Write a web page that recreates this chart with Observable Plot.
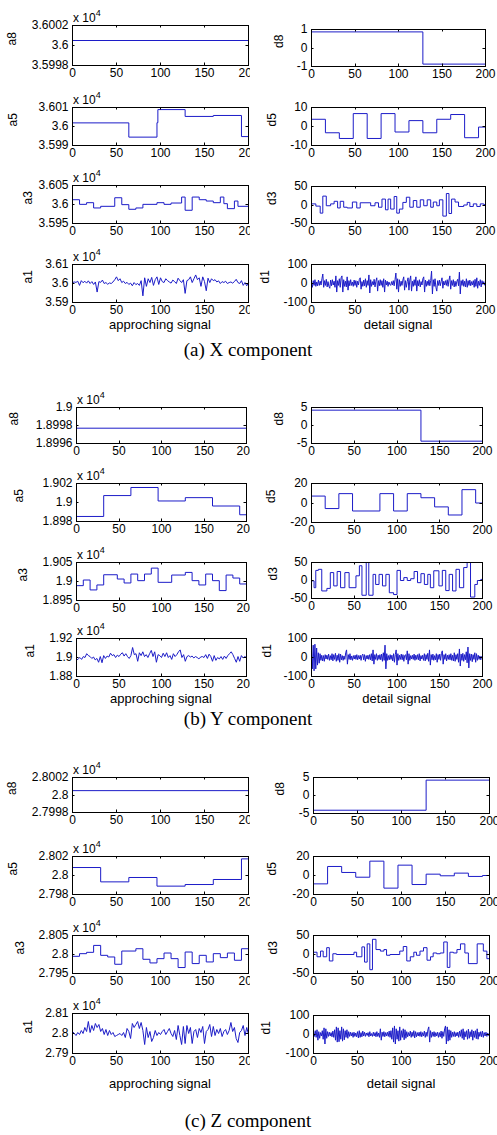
<!DOCTYPE html>
<html><head><meta charset="utf-8">
<script src="https://cdn.jsdelivr.net/npm/d3@7"></script>
<script src="https://cdn.jsdelivr.net/npm/@observablehq/plot@0.6"></script>
<style>
body{margin:0;background:#fff;}
#root{position:relative;width:497px;height:1135px;overflow:hidden;background:#fff;}
#leftClip{position:absolute;left:0;top:0;width:250px;height:1135px;overflow:hidden;}
.cap{position:absolute;font-family:"Liberation Serif","Times New Roman",serif;font-size:19px;white-space:nowrap;transform:translate(-50%,-50%);color:#000;}
.xl{position:absolute;font-family:"Liberation Sans",Arial,sans-serif;font-size:13px;white-space:nowrap;transform:translate(-50%,-50%);color:#000;}
</style></head><body><div id="root"><div id="leftClip"></div></div>
<script>
// ---------- tick labels ----------
const xTicks = [0, 50, 100, 150, 200];
const ticksX = {a8:[35998,36000,36002], a5:[35990,36000,36010], a3:[35950,36000,36050], a1:[35900,36000,36100], d8:[-1,0,1], d5:[-10,0,10], d3:[-50,0,50], d1:[-100,0,100]};
const ticksY = {a8:[18996,18998,19000], a5:[18980,19000,19020], a3:[18950,19000,19050], a1:[18800,19000,19200], d8:[-5,0,5], d5:[-20,0,20], d3:[-50,0,50], d1:[-100,0,100]};
const ticksZ = {a8:[27998,28000,28002], a5:[27980,28000,28020], a3:[27950,28000,28050], a1:[27900,28000,28100], d8:[-5,0,5], d5:[-20,0,20], d3:[-50,0,50], d1:[-100,0,100]};

// ---------- X component ----------
const a8X = 36000.5;
const a5X = [[0,36001.9],[64,35994.4],[96,36002],[97,36008.9],[128,36005.3],[160,36005.8],[192,35994.7],[200,35994.7]];
const a3X = [[0,36012.6],[8,36000.4],[16,36004.8],[24,35990.9],[32,35995.2],[48,36017.8],[56,35999.6],[64,35987.4],[72,35990.9],[80,36000.4],[96,36004.8],[104,36000.4],[112,36003.9],[124,36019.6],[128,35984.8],[136,36019.6],[144,36012.6],[152,36009.1],[160,36004.8],[168,36019.6],[172,36002.2],[176,35989.1],[184,36009.1],[188,35995.2],[200,35995.2]];
const a1X = [36005,36008,36006,36012,35990,36015,36004,36012,36002,36014,
36000,36010,35995,36008,35955,36010,36006,36018,36000,36005,
35996,36003,36000,36008,36020,36035,36015,36025,36005,36012,
36000,36006,35995,36002,35988,36005,35994,36000,35990,36015,
35935,36030,35985,36025,36005,36032,35990,36020,36035,35995,
36030,36010,36005,36025,36015,36008,36002,36018,36010,36000,
36028,36015,36005,36020,35948,36015,36020,36035,36005,36025,
36045,36020,36030,35985,36035,36010,35962,36028,36005,36025,
36015,36020,36008,36014,36000,36010,36005,36012,36000,36005,
36008,36002,36010,36022,36005,36000,36015,35990,36005,35988,
36002];
const d8X = [[0,0.87],[128,-0.87],[200,-0.87]];
const d5X = [[0,3.8],[16,-3.3],[32,-6.3],[48,6.8],[64,-6.3],[80,6.8],[96,-2.9],[112,3.1],[128,-3.3],[144,3.8],[160,6.3],[176,-5.9],[192,-0.3],[200,-0.3]];
const d3X = [[0,3],[5,-3],[10,-22],[13,24],[17,-2],[22,3],[26,10],[30,-8],[33,10],[37,-6],[41,-8],[47,8],[52,-8],[56,6],[68,-2],[73,6],[77,-6],[81,16],[85,-13],[88,16],[91,-11],[95,23],[98,-22],[101,-11],[105,7],[109,21],[113,-6],[117,12],[121,-6],[125,14],[129,-2],[133,14],[137,-6],[140,8],[144,-2],[147,14],[151,-30],[155,31],[158,-23],[161,16],[165,8],[169,-4],[175,0],[179,7],[182,-4],[186,3],[190,-4],[194,3],[198,1],[200,1]];
const d1X = [5,-20,15,-10,20,-15,8,-12,18,-10, 12,-8,25,50,-20,15,-10,22,-18,10, -15,-25,18,-12,20,-8,12,-20,40,-45, 15,-10,25,-20,30,40,-45,20,-15,12,
-18,35,-35,15,-12,20,-10,8,-15,18, -10,15,-20,12,-8,22,30,-30,10,-15, 18,-12,25,-20,15,-10,45,-50,20,-15, 10,-8,22,-18,12,30,-40,15,-12,20,
-10,15,-20,25,-45,18,-8,12,-15,8, -5,-10,10,-8,15,-12,20,55,-30,25, -45,20,-15,12,-10,18,35,-35,15,-20, 10,30,-35,18,40,-40,12,-15,20,-10,
35,-40,15,-12,20,-18,10,-8,25,35, -45,18,-15,12,-10,20,-12,15,65,-55, 20,-15,25,-20,-40,15,-10,18,-12,10, 30,-25,12,-8,15,-10,20,-15,18,40,
-30,15,-10,20,-18,12,-15,10,22,-12, 60,-55,15,-10,20,-15,12,-18,25,-20, 15,-10,18,-12,10,-8,15,-20,22,-15, 30,-25,12,-10,20,-18,15,-5,10,-8];

// ---------- Y component ----------
const a8Y = 18997.7;
const a5Y = [[0,18985.3],[32,19007.3],[64,19015.8],[96,19001.6],[128,19005.1],[160,18996.3],[192,18987.1],[200,18987.1]];
const a3Y = [[0,18989.1],[8,19003.9],[16,18977.8],[24,18990.9],[32,19017.8],[48,19006.5],[56,18996.1],[64,19019.6],[72,19002.2],[80,19019.6],[88,19035.2],[96,18997.8],[112,19017],[128,19023.9],[136,19002.2],[144,18990.9],[152,19019.6],[160,19002.2],[168,18976.1],[176,19017],[184,19009.1],[192,18993.5],[200,18993.5]];
const a1Y = [18970,18985,19000,18980,19010,19000,19040,19020,19010,18990,
19005,18975,18990,18950,19010,18945,19020,18990,19015,19005,
19045,19020,19030,19000,19025,19010,19035,19050,19015,19040,
19010,18990,19020,19105,19030,19040,18960,19050,19020,19060,
19010,19030,19000,19040,19075,19010,19060,18950,19030,19020,
19000,19045,19010,19050,19000,19020,18980,19040,19010,19030,
19060,19080,19000,19030,18960,19010,19020,19005,19015,18995,
19010,19000,18985,19005,19010,19000,19030,18990,19035,19010,
18960,19020,18970,19000,18985,19010,18980,19015,18990,19020,
19040,19060,19030,18990,18950,19010,18960,19020,18995,19010,
19000];
const d8Y = [[0,4.26],[128,-4.35],[200,-4.35]];
const d5Y = [[0,7.1],[16,-5.7],[32,9.6],[48,-8.2],[80,9.6],[96,-8.2],[112,9.6],[128,5.4],[144,-4],[160,-12.3],[176,13.7],[192,0],[200,0]];
const d3Y = [[0,-1],[3,-20],[5,28],[8,31],[12,-29],[18,-22],[22,22],[26,-15],[30,25],[34,-20],[39,22],[44,-20],[52,13],[56,41],[59,-41],[64,50],[67,-41],[72,17],[75,-11],[79,17],[83,-15],[87,17],[91,-34],[96,-39],[100,28],[104,0],[108,8],[112,0],[116,5],[120,25],[124,-6],[128,19],[132,-11],[136,17],[139,-20],[143,27],[149,-15],[153,28],[157,-28],[161,17],[165,-29],[169,31],[173,-20],[178,36],[182,50],[186,-46],[191,-11],[194,0],[198,3],[200,3]];
const d1Y = [30,-60,65,-70,70,-60,50,-40,25,-30, 20,-15,12,-18,10,-20,15,-8,12,-10, 18,-15,10,-12,20,-18,15,-10,22,-20, 12,-15,20,-25,18,-12,10,-15,8,-10,
25,40,-35,15,-10,20,-12,8,-15,10, -8,12,-10,15,-12,10,-8,12,-15,10, 18,-12,15,-20,10,-8,12,-10,15,-12, 20,-18,40,-35,15,-10,20,-15,12,-10,
15,-12,18,-20,25,-15,65,-60,20,-15, 10,-12,15,-10,12,-18,20,-25,15,40, -40,20,-15,12,-10,18,-12,15,-20,10, 15,-12,35,-35,20,-15,10,-8,12,-10,
18,-15,12,-10,15,-12,20,-18,10,-8, 12,-15,20,-18,15,-10,22,-20,40,-40, 15,-12,18,-15,10,-12,20,-25,15,-10, 18,-15,22,35,-35,15,-10,20,-18,12,
-10,15,-12,20,-15,12,-18,25,-20,15, -10,20,-25,45,-45,18,-15,22,-20,15, -12,30,-28,55,-55,20,-15,18,-22,15, -10,25,-25,20,-15,12,-10,8,-12,5];

// ---------- Z component ----------
const a8Z = 28000.5;
const a5Z = [[0,28008.4],[32,27993.3],[64,27997.9],[96,27988.8],[128,27990.5],[160,27995.8],[192,28017.5],[200,28017.5]];
const a3Z = [[0,27995.2],[8,28002.2],[16,28005.7],[24,28023.9],[32,27997.8],[40,27993.5],[48,27974.3],[56,28009.1],[72,28015.2],[80,27987.4],[88,27977.8],[96,27989.1],[104,28003.9],[112,27989.1],[120,27965.7],[128,28006.5],[136,27976.1],[144,27997.8],[152,27980.4],[160,28002.2],[168,27991.7],[176,28003.9],[184,27984.8],[192,28015.2],[200,28015.2]];
const a1Z = [28010,28000,27990,28005,27995,28015,28000,28030,28010,28060,
28005,28040,28015,28050,28030,28045,28010,28025,27995,28020,
27990,28015,27995,28005,27985,27990,27995,28000,27990,28005,
27980,28025,28010,27975,28050,28030,28045,28060,28025,28055,
28015,27945,28030,27980,28010,27960,27980,28015,27990,28005,
27995,28010,28020,27995,28010,28025,28000,27985,28015,27970,
28040,27990,27945,28035,27950,28040,28000,28030,27950,28010,
28020,27980,28025,28005,28035,27950,28010,28020,28045,27985,
28035,27990,28020,28000,28025,27985,28010,28020,27995,28015,
28055,28010,28030,27975,27955,28005,28015,28040,27990,28030,
27995];
const d8Z = [[0,-4.09],[128,4.27],[200,4.27]];
const d5Z = [[0,-8.8],[16,9.5],[32,3.2],[48,-1.8],[64,15.1],[80,-13.3],[96,10.9],[112,-9.5],[128,1.4],[144,-0.3],[160,2.5],[176,-1],[192,0],[200,0]];
const d3Z = [[0,6],[4,-6],[8,9],[11,-6],[15,18],[18,-17],[22,2],[26,0],[46,6],[49,-6],[55,20],[58,-20],[61,28],[64,-40],[67,40],[71,13],[76,9],[80,13],[83,-2],[87,0],[98,9],[102,21],[106,-17],[110,-6],[114,6],[117,-2],[121,9],[125,18],[129,-15],[133,-6],[136,4],[140,2],[144,4],[148,33],[152,-34],[155,6],[159,4],[163,13],[167,28],[172,4],[176,-24],[186,28],[193,9],[197,-11],[200,-11]];
const d1Z = [15,-10,20,-15,25,-30,15,-20,10,-8, 20,-25,35,-50,30,-20,15,-10,12,-8, 10,-12,18,-15,25,-30,40,-40,35,-38, 20,-25,40,-35,30,-28,20,-15,25,-20,
15,-10,12,-8,10,-15,12,-10,8,-12, 15,-18,20,-15,10,-12,18,-8,12,-10, 8,-5,10,-12,15,-8,5,-10,12,-8, 10,-12,15,-10,8,-15,30,-30,12,-10,
15,-12,10,-8,12,-10,18,-15,20,-25, 35,-40,45,-50,30,-25,20,-35,40,-30, 20,-15,30,-28,25,-20,15,-12,10,-8, 18,-15,12,-10,20,-18,15,-12,10,-8,
12,-10,15,-12,10,-8,18,-15,12,-10, 25,40,-40,20,-15,12,-10,15,-12,10, -8,12,-15,10,-12,18,-20,15,-10,30, 45,-50,40,-35,25,-30,20,-15,12,-10,
15,-12,10,-8,12,-15,18,-10,25,-20, 30,-28,15,-12,20,-25,28,-20,15,-12, 25,-30,18,-15,20,-22,30,-25,12,-10, 15,-12,18,-15,10,-8,12,-10,8,-5];

// ---------- layout (pixels) ----------
const groups = [
  {comp:"X", cap:"(a) X component", capY:350, xlabY:324, xL:[72,248], xR:[311,485],
   rowsL:[[25,65],[107,145],[185,223],[264,302]], rowsR:[[29,66],[107,145],[186,223],[264,302]],
   labL:[12,13,28,28], labR:[278.5,272,272,265],
   ticks:ticksX, a8:a8X, a5:a5X, a3:a3X, a1:a1X, d8:d8X, d5:d5X, d3:d3X, d1:d1X},
  {comp:"Y", cap:"(b) Y component", capY:719, xlabY:698, xL:[76,246], xR:[311,482],
   rowsL:[[407,443],[483,521],[562,600],[638,676]], rowsR:[[407,443],[483,522],[562,598],[638,676]],
   labL:[14,19,23,30], labR:[279,271,273,266.5],
   ticks:ticksY, a8:a8Y, a5:a5Y, a3:a3Y, a1:a1Y, d8:d8Y, d5:d5Y, d3:d3Y, d1:d1Y},
  {comp:"Z", cap:"(c) Z component", capY:1121, xlabY:1083, xL:[72,248], xR:[313,489],
   rowsL:[[777,812],[856,894],[935,973],[1013,1053]], rowsR:[[777,813],[856,894],[935,973],[1015,1053]],
   labL:[12,13,20,28], labR:[279.5,271.5,272.5,266],
   ticks:ticksZ, a8:a8Z, a5:a5Z, a3:a3Z, a1:a1Z, d8:d8Z, d5:d5Z, d3:d3Z, d1:d1Z}
];

const LINE = "#1c1cc8";
const TK = 2.5;
const fmtA = d => String(+(d / 1e4).toFixed(6));
const fmtD = d => String(d);

function panel(host, {data, curve, ticks, fmt, name, exp, xr, yr, labX}) {
  const L = 80, R = 26, T = 24, B = 24;
  const [fx0, fx1] = xr, [fy0, fy1] = yr;
  const inner = (index, scales, values, dim) => {
    const g = d3.create("svg:g").attr("stroke", "#000").attr("fill", "none").attr("stroke-width", 1);
    const top = dim.marginTop, bot = dim.height - dim.marginBottom;
    const lef = dim.marginLeft, rig = dim.width - dim.marginRight;
    for (const t of xTicks) {
      const px = Math.round(scales.x(t)) + 0.5;
      g.append("path").attr("d", `M${px},${bot}v${-TK}M${px},${top}v${TK}`);
    }
    for (const t of ticks) {
      const py = Math.round(scales.y(t)) + 0.5;
      g.append("path").attr("d", `M${lef},${py}h${TK}M${rig},${py}h${-TK}`);
    }
    return g.node();
  };
  const expo = (index, scales, values, dim) => {
    const t = d3.create("svg:text").attr("x", dim.marginLeft + 1).attr("y", dim.marginTop - 3)
      .attr("text-anchor", "start").attr("font-size", 12).attr("fill", "#000").text("x 10");
    t.append("tspan").attr("dy", -6).attr("font-size", 9).text("4");
    return t.node();
  };
  const marks = [
    Plot.line(data, {x: d => d[0], y: d => d[1], stroke: LINE, strokeWidth: 1, curve}),
    Plot.frame({stroke: "#000"}),
    Plot.axisX({ticks: xTicks, tickSize: 0, tickPadding: 3, tickFormat: d => String(d), label: null}),
    Plot.axisY({ticks, tickSize: 0, tickPadding: 4, tickFormat: fmt, label: null}),
    inner,
    Plot.text([name], {frameAnchor: "left", text: d => d, rotate: -90, dx: -(fx0 - labX), fontSize: 12})
  ];
  if (exp) marks.push(expo);
  const svg = Plot.plot({
    width: fx1 - fx0 + L + R, height: fy1 - fy0 + T + B,
    marginLeft: L, marginRight: R, marginTop: T, marginBottom: B,
    x: {domain: [0, 200]}, y: {domain: [ticks[0], ticks[ticks.length - 1]]},
    style: 'background:transparent;overflow:visible;max-width:none;font-family:"Liberation Sans",Arial,sans-serif;font-size:12px;color:#000;',
    marks
  });
  svg.style.position = "absolute";
  svg.style.left = (fx0 - L) + "px";
  svg.style.top = (fy0 - T) + "px";
  host.appendChild(svg);
}

const root = document.getElementById("root");
const leftClip = document.getElementById("leftClip");
for (const g of groups) {
  const aNames = ["a8", "a5", "a3", "a1"], dNames = ["d8", "d5", "d3", "d1"];
  aNames.forEach((n, i) => {
    let data, curve = "step-after";
    if (n === "a8") data = [[0, g.a8], [200, g.a8]];
    else if (n === "a1") { data = g.a1.map((v, k) => [k * 2, v]); curve = "linear"; }
    else data = g[n];
    panel(leftClip, {data, curve, ticks: g.ticks[n], fmt: fmtA, name: n, exp: true,
      xr: g.xL, yr: g.rowsL[i], labX: g.labL[i]});
  });
  dNames.forEach((n, i) => {
    let data, curve = "step-after";
    if (n === "d1") { data = g.d1.map((v, k) => [k, v]); curve = "linear"; }
    else data = g[n];
    panel(root, {data, curve, ticks: g.ticks[n], fmt: fmtD, name: n, exp: false,
      xr: g.xR, yr: g.rowsR[i], labX: g.labR[i]});
  });
  const xl1 = document.createElement("div"); xl1.className = "xl"; xl1.textContent = "approching signal";
  xl1.style.left = ((g.xL[0] + g.xL[1]) / 2) + "px"; xl1.style.top = g.xlabY + "px"; root.appendChild(xl1);
  const xl2 = document.createElement("div"); xl2.className = "xl"; xl2.textContent = "detail signal";
  xl2.style.left = ((g.xR[0] + g.xR[1]) / 2) + "px"; xl2.style.top = g.xlabY + "px"; root.appendChild(xl2);
  const cap = document.createElement("div"); cap.className = "cap"; cap.textContent = g.cap;
  cap.style.left = "248px"; cap.style.top = g.capY + "px"; root.appendChild(cap);
}
</script></body></html>
